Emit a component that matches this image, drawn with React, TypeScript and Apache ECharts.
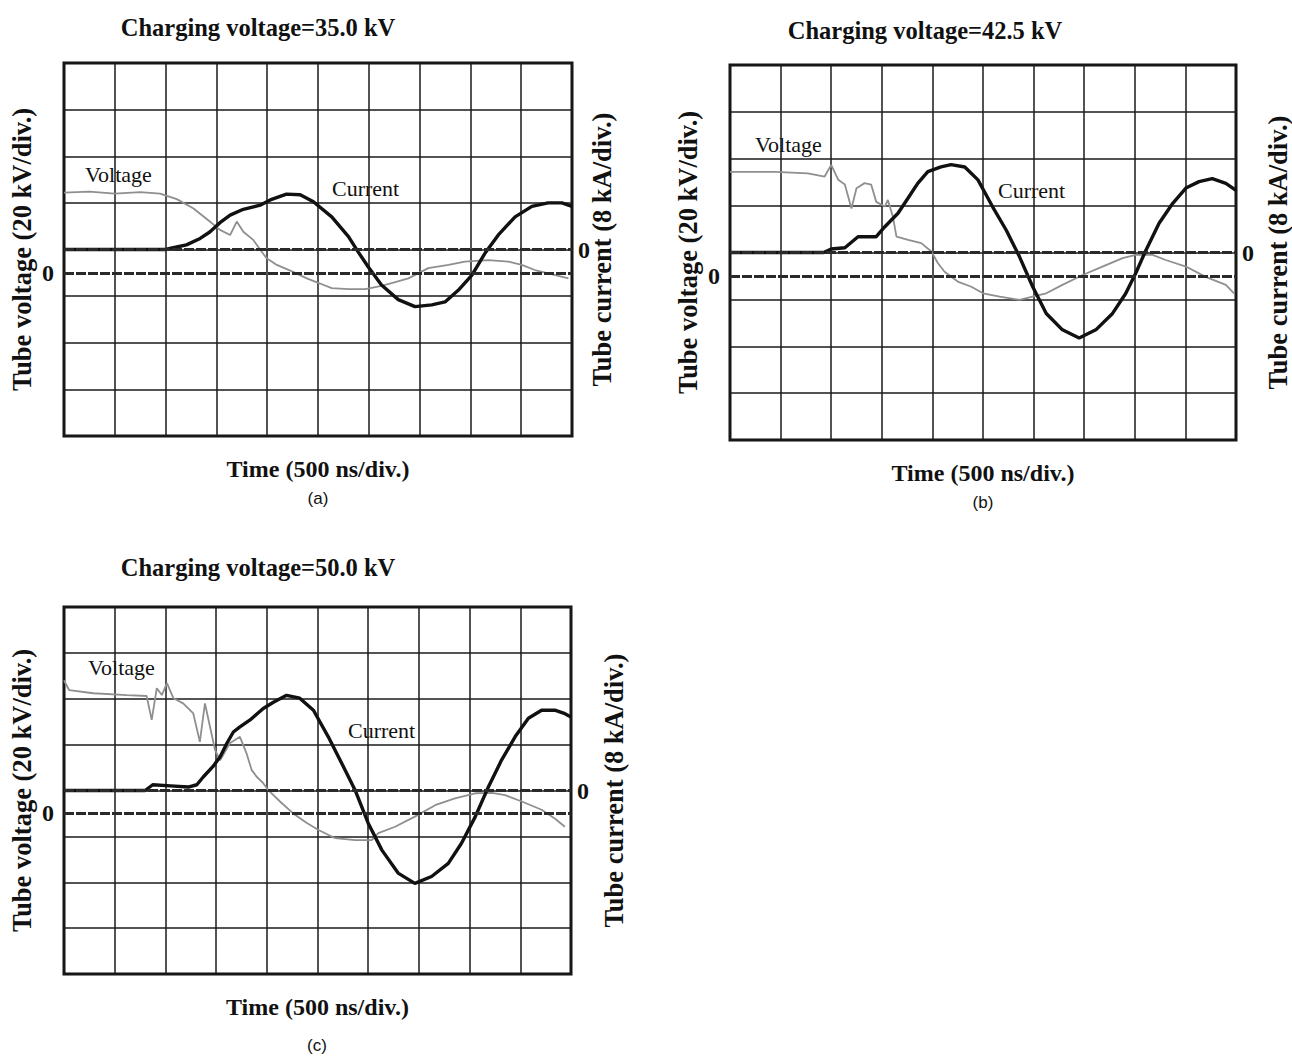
import React, { useEffect, useRef } from "react";
import * as echarts from "echarts";

// ---------- data (time in ns, voltage in kV, current in kA) ----------
const aVoltT = [0, 250, 500, 750, 945, 1110, 1275, 1435, 1535, 1635, 1700, 1765, 1865, 1930, 1995, 2095, 2255, 2390, 2520, 2635, 2800, 2965, 3125, 3225, 3390, 3585, 3785, 3945, 4175, 4375, 4505, 4635, 4765, 4965];
const aVoltV = [34.4, 34.8, 34.0, 34.6, 34.0, 31.6, 27.6, 22.0, 18.4, 16.2, 22.0, 17.6, 14.0, 10.0, 6.2, 3.4, 0.4, -2.4, -4.6, -6.6, -7.0, -7.0, -5.6, -4.4, -2.4, 2.0, 3.4, 4.8, 5.4, 4.8, 3.4, 1.2, -0.2, -2.4];
const aCurT = [0, 500, 1000, 1075, 1205, 1340, 1435, 1535, 1635, 1765, 1930, 2030, 2190, 2325, 2455, 2635, 2800, 2895, 2995, 3125, 3290, 3455, 3620, 3750, 3880, 4015, 4145, 4275, 4440, 4605, 4765, 4900, 5000];
const aCurV = [0, 0, 0, 0.3, 0.8, 1.9, 3.0, 4.6, 5.9, 6.9, 7.6, 8.5, 9.5, 9.4, 8.2, 5.6, 2.2, -0.4, -3.0, -6.1, -8.6, -9.8, -9.5, -9.0, -7.0, -4.4, -0.6, 2.5, 5.6, 7.4, 8.0, 8.0, 7.4];

const bVoltT = [0, 445, 770, 935, 1000, 1070, 1135, 1200, 1250, 1330, 1395, 1445, 1530, 1560, 1610, 1645, 1760, 1890, 1990, 2055, 2120, 2250, 2385, 2500, 2665, 2860, 2990, 3125, 3285, 3485, 3680, 3880, 4010, 4175, 4305, 4505, 4700, 4900, 4980];
const bVoltV = [44.4, 44.4, 43.8, 42.4, 47.4, 41.0, 39.0, 28.8, 37.4, 39.6, 39.0, 31.6, 29.6, 32.4, 25.2, 16.8, 15.4, 14.0, 10.4, 5.4, 1.8, -2.4, -4.6, -7.4, -8.8, -10.2, -8.8, -7.4, -3.8, 0.4, 4.0, 7.6, 9.0, 9.0, 6.8, 4.0, -0.4, -3.8, -7.4];
const bCurT = [0, 925, 1000, 1135, 1265, 1330, 1445, 1530, 1660, 1760, 1855, 1955, 2085, 2185, 2320, 2450, 2595, 2730, 2860, 2990, 3125, 3285, 3450, 3615, 3780, 3910, 4010, 4110, 4240, 4375, 4505, 4635, 4765, 4900, 5000];
const bCurV = [0, 0, 0.6, 0.8, 2.7, 2.7, 2.7, 4.4, 6.7, 9.3, 11.8, 13.8, 14.6, 15.0, 14.6, 12.4, 7.8, 3.8, -0.7, -5.8, -10.4, -13.2, -14.6, -13.2, -10.4, -7.0, -3.5, 0.4, 5.0, 8.4, 11.0, 12.1, 12.6, 11.8, 10.6];

const cVoltT = [0, 50, 290, 620, 815, 865, 915, 965, 1015, 1080, 1175, 1275, 1340, 1390, 1440, 1490, 1540, 1635, 1735, 1800, 1850, 1900, 1965, 2015, 2130, 2260, 2395, 2510, 2675, 2870, 3035, 3100, 3265, 3460, 3660, 3855, 4055, 4220, 4350, 4515, 4710, 4840, 4940];
const cVoltV = [58, 53.8, 52.4, 51.6, 51.2, 40.8, 54.6, 51.6, 56.8, 50.2, 48, 43.6, 31.2, 48, 37.8, 27.6, 23.2, 30.6, 33.4, 26.2, 19, 16, 13.2, 10.2, 5.2, 0, -4.2, -7.2, -10.8, -11.6, -11.6, -8.6, -5.8, -1.4, 3.6, 6.6, 8.8, 9, 8, 5.2, 1.6, -2.2, -5.8];
const cCurT = [0, 800, 875, 1050, 1225, 1310, 1375, 1470, 1540, 1605, 1670, 1735, 1835, 1965, 2065, 2195, 2325, 2460, 2605, 2740, 2870, 3000, 3135, 3295, 3460, 3625, 3790, 3920, 4055, 4185, 4315, 4450, 4580, 4710, 4840, 4940, 5000];
const cCurV = [0, 0, 1.0, 0.8, 0.6, 1.0, 2.4, 4.2, 5.9, 8.2, 10.2, 11.1, 12.3, 14.3, 15.4, 16.6, 16.1, 14.0, 9.4, 4.7, 0.1, -5.7, -10.4, -14.4, -16.2, -15.0, -12.7, -9.2, -4.6, 0.6, 5.3, 9.4, 12.6, 14.0, 14.0, 13.4, 12.8];

const chargingVoltages = ["35.0", "42.5", "50.0"];
const panelTags = ["(a)", "(b)", "(c)"];
const xAxisName = "Time (500 ns/div.)";
const voltAxisName = "Tube voltage (20 kV/div.)";
const curAxisName = "Tube current (8 kA/div.)";

const serif = '"Liberation Serif", "Times New Roman", serif';

const zip = (t: number[], v: number[]) => t.map((x, i) => [x, v[i]]);

const panels = [
  { volt: zip(aVoltT, aVoltV), cur: zip(aCurT, aCurV), grid: { left: 64, top: 63, width: 508, height: 373 }, rightGap: 16,
    title: [258, 27], tag: [318, 498], vLab: [85, 174], cLab: [332, 188] },
  { volt: zip(bVoltT, bVoltV), cur: zip(bCurT, bCurV), grid: { left: 730, top: 65, width: 507, height: 375 }, rightGap: 28,
    title: [925, 30], tag: [983, 502], vLab: [755, 144], cLab: [998, 190] },
  { volt: zip(cVoltT, cVoltV), cur: zip(cCurT, cCurV), grid: { left: 64, top: 607, width: 507, height: 367 }, rightGap: 29,
    title: [258, 567], tag: [317, 1045], vLab: [88, 667], cLab: [348, 730] },
];

export default function App() {
  const ref = useRef<HTMLDivElement>(null);
  useEffect(() => {
    document.body.style.margin = "0";
    if (!ref.current) return;
    const chart = echarts.init(ref.current, null, { renderer: "svg" });

    const grids: any[] = [];
    const xAxes: any[] = [];
    const yAxes: any[] = [];
    const series: any[] = [];
    const graphics: any[] = [];

    const nameStyle = { fontFamily: serif, fontWeight: "bold", fontSize: 24, color: "#111" };
    const zeroLabel = (margin: number) => ({
      show: true,
      margin,
      fontFamily: serif,
      fontWeight: "bold",
      fontSize: 24,
      color: "#111",
      formatter: (v: number) => (Math.abs(v) < 1e-9 ? "0" : ""),
    });

    panels.forEach((p, i) => {
      grids.push({ ...p.grid, show: true, borderColor: "#111", borderWidth: 3, backgroundColor: "transparent", containLabel: false });
      xAxes.push({
        type: "value", gridIndex: i, min: 0, max: 5000, interval: 500,
        axisLine: { show: false }, axisTick: { show: false }, axisLabel: { show: false },
        splitLine: { show: true, lineStyle: { color: "#1a1a1a", width: 1.5 } },
        name: xAxisName, nameLocation: "middle", nameGap: 21, nameTextStyle: { ...nameStyle },
      });
      yAxes.push({
        type: "value", gridIndex: i, position: "left", min: -70, max: 90, interval: 10,
        axisLine: { show: false }, axisTick: { show: false }, splitLine: { show: false },
        axisLabel: zeroLabel(10),
        name: voltAxisName, nameLocation: "middle", nameGap: 29, nameRotate: 90, nameMoveOverlap: false,
        nameTextStyle: { ...nameStyle, fontSize: 26.5 },
      });
      yAxes.push({
        type: "value", gridIndex: i, position: "right", min: -32, max: 32, interval: 8,
        axisLine: { show: false }, axisTick: { show: false },
        splitLine: { show: true, lineStyle: { color: "#1a1a1a", width: 1.5 } },
        axisLabel: zeroLabel(6),
        name: curAxisName, nameLocation: "middle", nameGap: p.rightGap, nameRotate: 90, nameMoveOverlap: false,
        nameTextStyle: { ...nameStyle, fontSize: 26.5 },
      });
      const base = { type: [10, 2], color: "#2a2a2a", width: 3 };
      series.push({
        name: "Voltage " + panelTags[i], type: "line", xAxisIndex: i, yAxisIndex: i * 2,
        data: p.volt, showSymbol: false, z: 3,
        lineStyle: { color: "#8f8f8f", width: 1.8 },
        markLine: { silent: true, symbol: "none", label: { show: false }, lineStyle: base, data: [{ yAxis: 0 }] },
      });
      series.push({
        name: "Current " + panelTags[i], type: "line", xAxisIndex: i, yAxisIndex: i * 2 + 1,
        data: p.cur, showSymbol: false, z: 4,
        lineStyle: { color: "#111", width: 3.4 },
        markLine: { silent: true, symbol: "none", label: { show: false }, lineStyle: base, data: [{ yAxis: 0 }] },
      });
      const t = (x: number, y: number, text: string, font: string, align = "center") => ({
        type: "text", x, y, silent: true,
        style: { text, font, fill: "#111", textAlign: align, textVerticalAlign: "middle", align, verticalAlign: "middle" },
      });
      graphics.push(t(p.title[0], p.title[1], "Charging voltage=" + chargingVoltages[i] + " kV", `bold 24.5px ${serif}`));
      graphics.push(t(p.tag[0], p.tag[1], panelTags[i], `17px "Liberation Sans", sans-serif`));
      graphics.push(t(p.vLab[0], p.vLab[1], "Voltage", `22px ${serif}`, "left"));
      graphics.push(t(p.cLab[0], p.cLab[1], "Current", `22px ${serif}`, "left"));
    });

    chart.setOption({
      animation: false,
      backgroundColor: "#ffffff",
      grid: grids,
      xAxis: xAxes,
      yAxis: yAxes,
      series,
      graphic: graphics,
    });
    return () => chart.dispose();
  }, []);
  return <div ref={ref} style={{ width: 1292, height: 1058 }} />;
}
